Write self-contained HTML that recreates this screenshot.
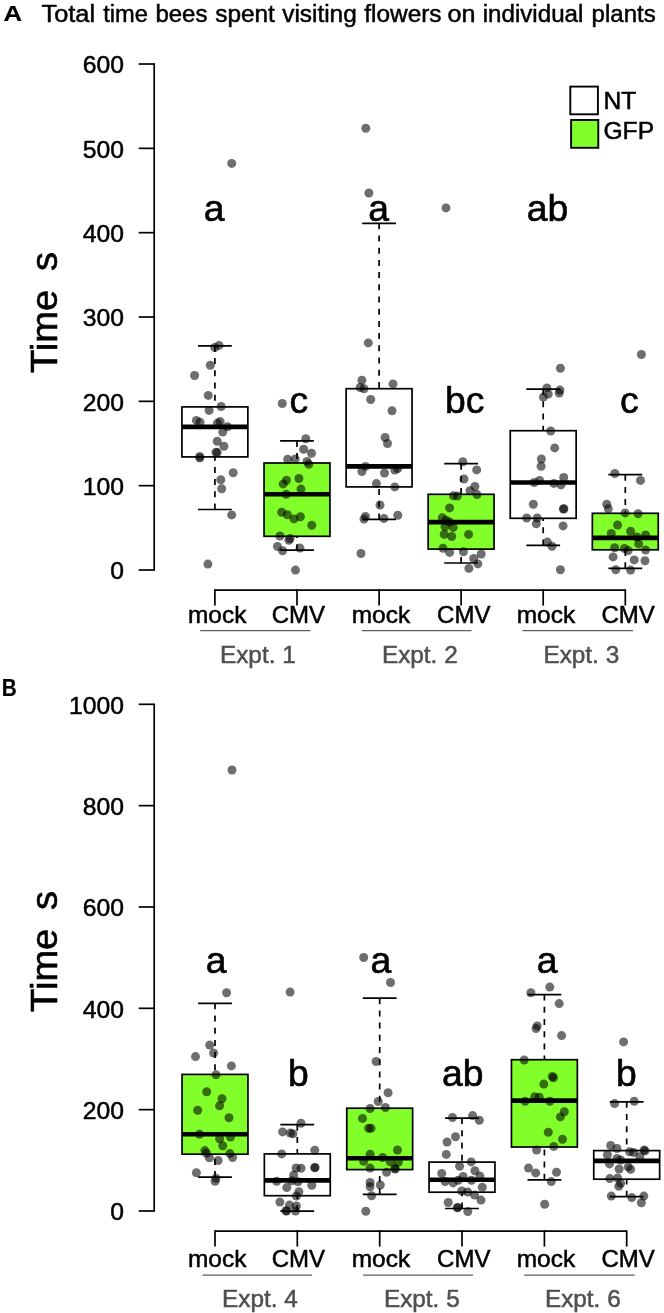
<!DOCTYPE html>
<html><head><meta charset="utf-8"><title>Figure</title>
<style>html,body{margin:0;padding:0;background:#fff}svg{display:block;will-change:transform}text{font-family:"Liberation Sans",sans-serif}</style>
</head><body>
<svg width="664" height="1313" viewBox="0 0 664 1313">
<rect width="664" height="1313" fill="#fff"/>
<text transform="translate(3.40 21.00) scale(1.12 1)" font-size="23.0" text-anchor="start" fill="#000" stroke="#000" stroke-width="0.2" font-weight="bold" >A</text>
<text transform="translate(41.50 22.40) scale(1.04 1)" font-size="24.4" text-anchor="start" fill="#000" stroke="#000" stroke-width="0.5" font-weight="normal" >Total</text>
<text transform="translate(103.20 22.40) scale(0.97 1)" font-size="24.4" text-anchor="start" fill="#000" stroke="#000" stroke-width="0.5" font-weight="normal" >time</text>
<text transform="translate(155.40 22.40) scale(0.985 1)" font-size="24.4" text-anchor="start" fill="#000" stroke="#000" stroke-width="0.5" font-weight="normal" >bees</text>
<text transform="translate(215.20 22.40) scale(1.0 1)" font-size="24.4" text-anchor="start" fill="#000" stroke="#000" stroke-width="0.5" font-weight="normal" >spent</text>
<text transform="translate(282.20 22.40) scale(1.0 1)" font-size="24.4" text-anchor="start" fill="#000" stroke="#000" stroke-width="0.5" font-weight="normal" >visiting</text>
<text transform="translate(364.30 22.40) scale(1.0 1)" font-size="24.4" text-anchor="start" fill="#000" stroke="#000" stroke-width="0.5" font-weight="normal" >flowers</text>
<text transform="translate(447.50 22.40) scale(1.03 1)" font-size="24.4" text-anchor="start" fill="#000" stroke="#000" stroke-width="0.5" font-weight="normal" >on</text>
<text transform="translate(482.70 22.40) scale(0.99 1)" font-size="24.4" text-anchor="start" fill="#000" stroke="#000" stroke-width="0.5" font-weight="normal" >individual</text>
<text transform="translate(591.60 22.40) scale(0.985 1)" font-size="24.4" text-anchor="start" fill="#000" stroke="#000" stroke-width="0.5" font-weight="normal" >plants</text>
<text transform="translate(1.70 695.60) scale(0.88 1)" font-size="23.6" text-anchor="start" fill="#000" stroke="#000" stroke-width="0.2" font-weight="bold" >B</text>
<rect x="570.3" y="86.6" width="27.6" height="27.7" fill="#fff" stroke="#000" stroke-width="1.9"/>
<rect x="571.1" y="120.0" width="27.2" height="27.8" fill="#82ff2a" stroke="#000" stroke-width="1.9"/>
<text transform="translate(603.40 109.30) scale(1.045 1)" font-size="23.6" text-anchor="start" fill="#000" stroke="#000" stroke-width="0.5" font-weight="normal" >NT</text>
<text transform="translate(603.40 138.50) scale(1.045 1)" font-size="23.6" text-anchor="start" fill="#000" stroke="#000" stroke-width="0.5" font-weight="normal" >GFP</text>
<line x1="154.20" y1="64.02" x2="154.20" y2="570.00" stroke="#000" stroke-width="1.7" />
<line x1="138.70" y1="64.02" x2="155.05" y2="64.02" stroke="#000" stroke-width="1.7" />
<text transform="translate(124.00 73.22) scale(1.03 1)" font-size="24" text-anchor="end" fill="#000" stroke="#000" stroke-width="0.5" font-weight="normal" >600</text>
<line x1="138.70" y1="148.35" x2="155.05" y2="148.35" stroke="#000" stroke-width="1.7" />
<text transform="translate(124.00 157.55) scale(1.03 1)" font-size="24" text-anchor="end" fill="#000" stroke="#000" stroke-width="0.5" font-weight="normal" >500</text>
<line x1="138.70" y1="232.68" x2="155.05" y2="232.68" stroke="#000" stroke-width="1.7" />
<text transform="translate(124.00 241.88) scale(1.03 1)" font-size="24" text-anchor="end" fill="#000" stroke="#000" stroke-width="0.5" font-weight="normal" >400</text>
<line x1="138.70" y1="317.01" x2="155.05" y2="317.01" stroke="#000" stroke-width="1.7" />
<text transform="translate(124.00 326.21) scale(1.03 1)" font-size="24" text-anchor="end" fill="#000" stroke="#000" stroke-width="0.5" font-weight="normal" >300</text>
<line x1="138.70" y1="401.34" x2="155.05" y2="401.34" stroke="#000" stroke-width="1.7" />
<text transform="translate(124.00 410.54) scale(1.03 1)" font-size="24" text-anchor="end" fill="#000" stroke="#000" stroke-width="0.5" font-weight="normal" >200</text>
<line x1="138.70" y1="485.67" x2="155.05" y2="485.67" stroke="#000" stroke-width="1.7" />
<text transform="translate(124.00 494.87) scale(1.03 1)" font-size="24" text-anchor="end" fill="#000" stroke="#000" stroke-width="0.5" font-weight="normal" >100</text>
<line x1="138.70" y1="570.00" x2="155.05" y2="570.00" stroke="#000" stroke-width="1.7" />
<text transform="translate(124.00 579.20) scale(1.03 1)" font-size="24" text-anchor="end" fill="#000" stroke="#000" stroke-width="0.5" font-weight="normal" >0</text>
<line x1="214.90" y1="590.10" x2="625.30" y2="590.10" stroke="#000" stroke-width="1.7" />
<line x1="214.90" y1="589.25" x2="214.90" y2="605.60" stroke="#000" stroke-width="1.7" />
<line x1="297.00" y1="589.25" x2="297.00" y2="605.60" stroke="#000" stroke-width="1.7" />
<line x1="379.10" y1="589.25" x2="379.10" y2="605.60" stroke="#000" stroke-width="1.7" />
<line x1="461.10" y1="589.25" x2="461.10" y2="605.60" stroke="#000" stroke-width="1.7" />
<line x1="543.20" y1="589.25" x2="543.20" y2="605.60" stroke="#000" stroke-width="1.7" />
<line x1="625.30" y1="589.25" x2="625.30" y2="605.60" stroke="#000" stroke-width="1.7" />
<text transform="translate(217.20 623.30) scale(1.02 1)" font-size="24" text-anchor="middle" fill="#000" stroke="#000" stroke-width="0.5" font-weight="normal" >mock</text>
<text transform="translate(298.40 623.30) scale(1.0 1)" font-size="24" text-anchor="middle" fill="#000" stroke="#000" stroke-width="0.5" font-weight="normal" >CMV</text>
<text transform="translate(380.90 623.30) scale(1.02 1)" font-size="24" text-anchor="middle" fill="#000" stroke="#000" stroke-width="0.5" font-weight="normal" >mock</text>
<text transform="translate(463.75 623.30) scale(1.0 1)" font-size="24" text-anchor="middle" fill="#000" stroke="#000" stroke-width="0.5" font-weight="normal" >CMV</text>
<text transform="translate(545.90 623.30) scale(1.02 1)" font-size="24" text-anchor="middle" fill="#000" stroke="#000" stroke-width="0.5" font-weight="normal" >mock</text>
<text transform="translate(628.05 623.30) scale(1.0 1)" font-size="24" text-anchor="middle" fill="#000" stroke="#000" stroke-width="0.5" font-weight="normal" >CMV</text>
<line x1="200.20" y1="630.60" x2="310.50" y2="630.60" stroke="#5c5c5c" stroke-width="1.15" />
<line x1="362.00" y1="630.60" x2="471.50" y2="630.60" stroke="#5c5c5c" stroke-width="1.15" />
<line x1="522.50" y1="630.60" x2="633.00" y2="630.60" stroke="#5c5c5c" stroke-width="1.15" />
<text transform="translate(257.85 662.50) scale(1.015 1)" font-size="24" text-anchor="middle" fill="#505050" stroke="#505050" stroke-width="0.5" font-weight="normal" >Expt. 1</text>
<text transform="translate(419.80 662.50) scale(1.015 1)" font-size="24" text-anchor="middle" fill="#505050" stroke="#505050" stroke-width="0.5" font-weight="normal" >Expt. 2</text>
<text transform="translate(581.30 662.50) scale(1.015 1)" font-size="24" text-anchor="middle" fill="#505050" stroke="#505050" stroke-width="0.5" font-weight="normal" >Expt. 3</text>
<g transform="translate(0 0.5)">
<line x1="214.90" y1="345.40" x2="214.90" y2="406.40" stroke="#000" stroke-width="1.7" stroke-dasharray="6 6.2"/>
<line x1="214.90" y1="509.00" x2="214.90" y2="456.40" stroke="#000" stroke-width="1.7" stroke-dasharray="6 6.2"/>
<line x1="198.00" y1="345.40" x2="231.80" y2="345.40" stroke="#000" stroke-width="1.7" />
<line x1="198.00" y1="509.00" x2="231.80" y2="509.00" stroke="#000" stroke-width="1.7" />
<rect x="181.95" y="406.40" width="65.90" height="50.00" fill="#fff" stroke="#000" stroke-width="1.7"/>
<line x1="181.95" y1="426.40" x2="247.85" y2="426.40" stroke="#000" stroke-width="4.6" />
<line x1="297.00" y1="440.40" x2="297.00" y2="462.50" stroke="#000" stroke-width="1.7" stroke-dasharray="6 6.2"/>
<line x1="297.00" y1="549.70" x2="297.00" y2="535.80" stroke="#000" stroke-width="1.7" stroke-dasharray="6 6.2"/>
<line x1="280.10" y1="440.40" x2="313.90" y2="440.40" stroke="#000" stroke-width="1.7" />
<line x1="280.10" y1="549.70" x2="313.90" y2="549.70" stroke="#000" stroke-width="1.7" />
<rect x="264.05" y="462.50" width="65.90" height="73.30" fill="#82ff2a" stroke="#000" stroke-width="1.7"/>
<line x1="264.05" y1="493.70" x2="329.95" y2="493.70" stroke="#000" stroke-width="4.6" />
<line x1="379.10" y1="222.80" x2="379.10" y2="388.20" stroke="#000" stroke-width="1.7" stroke-dasharray="6 6.2"/>
<line x1="379.10" y1="518.90" x2="379.10" y2="486.40" stroke="#000" stroke-width="1.7" stroke-dasharray="6 6.2"/>
<line x1="362.20" y1="222.80" x2="396.00" y2="222.80" stroke="#000" stroke-width="1.7" />
<line x1="362.20" y1="518.90" x2="396.00" y2="518.90" stroke="#000" stroke-width="1.7" />
<rect x="346.15" y="388.20" width="65.90" height="98.20" fill="#fff" stroke="#000" stroke-width="1.7"/>
<line x1="346.15" y1="465.90" x2="412.05" y2="465.90" stroke="#000" stroke-width="4.6" />
<line x1="461.10" y1="463.20" x2="461.10" y2="493.80" stroke="#000" stroke-width="1.7" stroke-dasharray="6 6.2"/>
<line x1="461.10" y1="562.50" x2="461.10" y2="548.60" stroke="#000" stroke-width="1.7" stroke-dasharray="6 6.2"/>
<line x1="444.20" y1="463.20" x2="478.00" y2="463.20" stroke="#000" stroke-width="1.7" />
<line x1="444.20" y1="562.50" x2="478.00" y2="562.50" stroke="#000" stroke-width="1.7" />
<rect x="428.15" y="493.80" width="65.90" height="54.80" fill="#82ff2a" stroke="#000" stroke-width="1.7"/>
<line x1="428.15" y1="521.60" x2="494.05" y2="521.60" stroke="#000" stroke-width="4.6" />
<line x1="543.20" y1="388.60" x2="543.20" y2="430.20" stroke="#000" stroke-width="1.7" stroke-dasharray="6 6.2"/>
<line x1="543.20" y1="544.90" x2="543.20" y2="517.80" stroke="#000" stroke-width="1.7" stroke-dasharray="6 6.2"/>
<line x1="526.30" y1="388.60" x2="560.10" y2="388.60" stroke="#000" stroke-width="1.7" />
<line x1="526.30" y1="544.90" x2="560.10" y2="544.90" stroke="#000" stroke-width="1.7" />
<rect x="510.25" y="430.20" width="65.90" height="87.60" fill="#fff" stroke="#000" stroke-width="1.7"/>
<line x1="510.25" y1="482.00" x2="576.15" y2="482.00" stroke="#000" stroke-width="4.6" />
<line x1="625.30" y1="474.20" x2="625.30" y2="512.80" stroke="#000" stroke-width="1.7" stroke-dasharray="6 6.2"/>
<line x1="625.30" y1="567.80" x2="625.30" y2="549.30" stroke="#000" stroke-width="1.7" stroke-dasharray="6 6.2"/>
<line x1="608.40" y1="474.20" x2="642.20" y2="474.20" stroke="#000" stroke-width="1.7" />
<line x1="608.40" y1="567.80" x2="642.20" y2="567.80" stroke="#000" stroke-width="1.7" />
<rect x="592.35" y="512.80" width="65.90" height="36.50" fill="#82ff2a" stroke="#000" stroke-width="1.7"/>
<line x1="592.35" y1="537.40" x2="658.25" y2="537.40" stroke="#000" stroke-width="4.6" />
<g fill="rgba(0,0,0,0.57)">
<circle cx="231.7" cy="162.9" r="4.5"/>
<circle cx="219.0" cy="344.9" r="4.5"/>
<circle cx="214.8" cy="347.0" r="4.5"/>
<circle cx="210.3" cy="364.8" r="4.5"/>
<circle cx="194.6" cy="375.0" r="4.5"/>
<circle cx="208.2" cy="394.9" r="4.5"/>
<circle cx="221.1" cy="406.0" r="4.5"/>
<circle cx="209.1" cy="409.9" r="4.5"/>
<circle cx="196.4" cy="419.9" r="4.5"/>
<circle cx="200.0" cy="421.7" r="4.5"/>
<circle cx="220.2" cy="421.1" r="4.5"/>
<circle cx="217.5" cy="422.6" r="4.5"/>
<circle cx="227.5" cy="426.2" r="4.5"/>
<circle cx="222.7" cy="431.6" r="4.5"/>
<circle cx="217.2" cy="440.7" r="4.5"/>
<circle cx="223.9" cy="445.8" r="4.5"/>
<circle cx="216.0" cy="451.8" r="4.5"/>
<circle cx="217.2" cy="452.1" r="4.5"/>
<circle cx="199.8" cy="456.0" r="4.5"/>
<circle cx="199.8" cy="457.5" r="4.5"/>
<circle cx="233.2" cy="472.3" r="4.5"/>
<circle cx="220.8" cy="479.2" r="4.5"/>
<circle cx="221.7" cy="488.3" r="4.5"/>
<circle cx="231.7" cy="514.4" r="4.5"/>
<circle cx="207.9" cy="563.6" r="4.5"/>
<circle cx="282.3" cy="403.0" r="4.5"/>
<circle cx="305.8" cy="438.3" r="4.5"/>
<circle cx="303.7" cy="448.8" r="4.5"/>
<circle cx="311.5" cy="452.7" r="4.5"/>
<circle cx="287.7" cy="458.7" r="4.5"/>
<circle cx="295.2" cy="458.4" r="4.5"/>
<circle cx="307.0" cy="460.9" r="4.5"/>
<circle cx="308.8" cy="463.8" r="4.5"/>
<circle cx="298.9" cy="478.0" r="4.5"/>
<circle cx="286.5" cy="479.8" r="4.5"/>
<circle cx="283.2" cy="483.4" r="4.5"/>
<circle cx="301.0" cy="488.6" r="4.5"/>
<circle cx="286.2" cy="493.7" r="4.5"/>
<circle cx="281.7" cy="511.7" r="4.5"/>
<circle cx="287.4" cy="514.2" r="4.5"/>
<circle cx="294.0" cy="518.4" r="4.5"/>
<circle cx="300.4" cy="516.3" r="4.5"/>
<circle cx="311.8" cy="524.7" r="4.5"/>
<circle cx="279.9" cy="535.5" r="4.5"/>
<circle cx="290.1" cy="538.0" r="4.5"/>
<circle cx="288.9" cy="539.8" r="4.5"/>
<circle cx="277.5" cy="546.0" r="4.5"/>
<circle cx="282.6" cy="550.3" r="4.5"/>
<circle cx="300.0" cy="547.6" r="4.5"/>
<circle cx="295.5" cy="569.6" r="4.5"/>
<circle cx="365.8" cy="127.7" r="4.5"/>
<circle cx="368.9" cy="192.5" r="4.5"/>
<circle cx="368.3" cy="342.4" r="4.5"/>
<circle cx="361.9" cy="379.8" r="4.5"/>
<circle cx="393.0" cy="383.4" r="4.5"/>
<circle cx="360.1" cy="387.0" r="4.5"/>
<circle cx="364.0" cy="388.2" r="4.5"/>
<circle cx="370.7" cy="399.0" r="4.5"/>
<circle cx="392.0" cy="410.2" r="4.5"/>
<circle cx="385.1" cy="437.0" r="4.5"/>
<circle cx="387.5" cy="443.0" r="4.5"/>
<circle cx="365.5" cy="465.9" r="4.5"/>
<circle cx="397.8" cy="468.0" r="4.5"/>
<circle cx="394.8" cy="469.5" r="4.5"/>
<circle cx="361.9" cy="471.0" r="4.5"/>
<circle cx="384.5" cy="472.5" r="4.5"/>
<circle cx="376.4" cy="483.1" r="4.5"/>
<circle cx="394.8" cy="486.4" r="4.5"/>
<circle cx="380.0" cy="504.5" r="4.5"/>
<circle cx="397.8" cy="514.7" r="4.5"/>
<circle cx="365.5" cy="515.9" r="4.5"/>
<circle cx="364.0" cy="518.6" r="4.5"/>
<circle cx="383.9" cy="518.0" r="4.5"/>
<circle cx="361.0" cy="553.0" r="4.5"/>
<circle cx="446.0" cy="207.4" r="4.5"/>
<circle cx="462.8" cy="461.3" r="4.5"/>
<circle cx="476.7" cy="469.4" r="4.5"/>
<circle cx="464.0" cy="478.5" r="4.5"/>
<circle cx="474.9" cy="486.0" r="4.5"/>
<circle cx="470.0" cy="490.2" r="4.5"/>
<circle cx="477.0" cy="494.1" r="4.5"/>
<circle cx="453.5" cy="495.3" r="4.5"/>
<circle cx="457.4" cy="495.6" r="4.5"/>
<circle cx="449.6" cy="507.4" r="4.5"/>
<circle cx="442.3" cy="517.3" r="4.5"/>
<circle cx="446.0" cy="519.7" r="4.5"/>
<circle cx="449.6" cy="521.5" r="4.5"/>
<circle cx="445.0" cy="526.3" r="4.5"/>
<circle cx="453.2" cy="526.9" r="4.5"/>
<circle cx="444.2" cy="533.9" r="4.5"/>
<circle cx="451.7" cy="536.0" r="4.5"/>
<circle cx="468.6" cy="533.9" r="4.5"/>
<circle cx="443.0" cy="547.7" r="4.5"/>
<circle cx="449.6" cy="551.9" r="4.5"/>
<circle cx="463.4" cy="551.3" r="4.5"/>
<circle cx="481.2" cy="553.5" r="4.5"/>
<circle cx="473.7" cy="558.0" r="4.5"/>
<circle cx="477.9" cy="563.4" r="4.5"/>
<circle cx="468.9" cy="567.9" r="4.5"/>
<circle cx="560.4" cy="367.8" r="4.5"/>
<circle cx="546.9" cy="387.4" r="4.5"/>
<circle cx="548.2" cy="393.5" r="4.5"/>
<circle cx="543.4" cy="396.6" r="4.5"/>
<circle cx="559.9" cy="389.6" r="4.5"/>
<circle cx="559.2" cy="392.6" r="4.5"/>
<circle cx="550.7" cy="430.5" r="4.5"/>
<circle cx="554.7" cy="447.4" r="4.5"/>
<circle cx="541.4" cy="458.5" r="4.5"/>
<circle cx="541.1" cy="465.7" r="4.5"/>
<circle cx="563.7" cy="476.9" r="4.5"/>
<circle cx="539.6" cy="479.9" r="4.5"/>
<circle cx="534.2" cy="482.0" r="4.5"/>
<circle cx="553.8" cy="482.9" r="4.5"/>
<circle cx="561.0" cy="484.4" r="4.5"/>
<circle cx="533.3" cy="503.7" r="4.5"/>
<circle cx="563.4" cy="508.5" r="4.5"/>
<circle cx="563.9" cy="508.2" r="4.5"/>
<circle cx="526.7" cy="517.5" r="4.5"/>
<circle cx="537.2" cy="517.5" r="4.5"/>
<circle cx="536.3" cy="523.3" r="4.5"/>
<circle cx="563.1" cy="525.4" r="4.5"/>
<circle cx="547.4" cy="541.6" r="4.5"/>
<circle cx="552.0" cy="545.8" r="4.5"/>
<circle cx="560.4" cy="569.3" r="4.5"/>
<circle cx="641.4" cy="354.0" r="4.5"/>
<circle cx="614.9" cy="473.0" r="4.5"/>
<circle cx="640.5" cy="479.9" r="4.5"/>
<circle cx="606.8" cy="503.7" r="4.5"/>
<circle cx="608.3" cy="508.2" r="4.5"/>
<circle cx="625.1" cy="512.4" r="4.5"/>
<circle cx="638.1" cy="513.3" r="4.5"/>
<circle cx="617.6" cy="524.5" r="4.5"/>
<circle cx="630.6" cy="530.8" r="4.5"/>
<circle cx="611.3" cy="532.9" r="4.5"/>
<circle cx="645.6" cy="534.4" r="4.5"/>
<circle cx="636.9" cy="536.5" r="4.5"/>
<circle cx="638.7" cy="543.4" r="4.5"/>
<circle cx="614.6" cy="547.3" r="4.5"/>
<circle cx="624.5" cy="548.0" r="4.5"/>
<circle cx="628.2" cy="550.1" r="4.5"/>
<circle cx="645.6" cy="549.5" r="4.5"/>
<circle cx="613.1" cy="556.4" r="4.5"/>
<circle cx="634.2" cy="559.4" r="4.5"/>
<circle cx="645.0" cy="560.3" r="4.5"/>
<circle cx="615.8" cy="569.3" r="4.5"/>
<circle cx="630.6" cy="569.6" r="4.5"/>
</g></g>
<text transform="translate(214.00 220.90) scale(1.0 1)" font-size="37.3" text-anchor="middle" fill="#000" stroke="#000" stroke-width="0.65" font-weight="normal" >a</text>
<text transform="translate(298.80 412.90) scale(1.0 1)" font-size="37.3" text-anchor="middle" fill="#000" stroke="#000" stroke-width="0.65" font-weight="normal" >c</text>
<text transform="translate(378.50 220.90) scale(1.0 1)" font-size="37.3" text-anchor="middle" fill="#000" stroke="#000" stroke-width="0.65" font-weight="normal" >a</text>
<text transform="translate(464.70 412.90) scale(1.0 1)" font-size="37.3" text-anchor="middle" fill="#000" stroke="#000" stroke-width="0.65" font-weight="normal" >bc</text>
<text transform="translate(547.50 220.90) scale(1.0 1)" font-size="37.3" text-anchor="middle" fill="#000" stroke="#000" stroke-width="0.65" font-weight="normal" >ab</text>
<text transform="translate(629.30 412.90) scale(1.0 1)" font-size="37.3" text-anchor="middle" fill="#000" stroke="#000" stroke-width="0.65" font-weight="normal" >c</text>
<text transform="translate(57.2 373.1) rotate(-90) scale(1.04 1)" font-size="36.6" stroke="#000" stroke-width="0.6">Time</text>
<text transform="translate(57.2 271.1) rotate(-90) scale(1.04 1)" font-size="36.6" stroke="#000" stroke-width="0.6">s</text>
<line x1="154.20" y1="704.30" x2="154.20" y2="1211.00" stroke="#000" stroke-width="1.7" />
<line x1="138.70" y1="704.30" x2="155.05" y2="704.30" stroke="#000" stroke-width="1.7" />
<text transform="translate(124.00 713.50) scale(1.03 1)" font-size="24" text-anchor="end" fill="#000" stroke="#000" stroke-width="0.5" font-weight="normal" >1000</text>
<line x1="138.70" y1="805.64" x2="155.05" y2="805.64" stroke="#000" stroke-width="1.7" />
<text transform="translate(124.00 814.84) scale(1.03 1)" font-size="24" text-anchor="end" fill="#000" stroke="#000" stroke-width="0.5" font-weight="normal" >800</text>
<line x1="138.70" y1="906.98" x2="155.05" y2="906.98" stroke="#000" stroke-width="1.7" />
<text transform="translate(124.00 916.18) scale(1.03 1)" font-size="24" text-anchor="end" fill="#000" stroke="#000" stroke-width="0.5" font-weight="normal" >600</text>
<line x1="138.70" y1="1008.32" x2="155.05" y2="1008.32" stroke="#000" stroke-width="1.7" />
<text transform="translate(124.00 1017.52) scale(1.03 1)" font-size="24" text-anchor="end" fill="#000" stroke="#000" stroke-width="0.5" font-weight="normal" >400</text>
<line x1="138.70" y1="1109.66" x2="155.05" y2="1109.66" stroke="#000" stroke-width="1.7" />
<text transform="translate(124.00 1118.86) scale(1.03 1)" font-size="24" text-anchor="end" fill="#000" stroke="#000" stroke-width="0.5" font-weight="normal" >200</text>
<line x1="138.70" y1="1211.00" x2="155.05" y2="1211.00" stroke="#000" stroke-width="1.7" />
<text transform="translate(124.00 1220.20) scale(1.03 1)" font-size="24" text-anchor="end" fill="#000" stroke="#000" stroke-width="0.5" font-weight="normal" >0</text>
<line x1="215.00" y1="1231.10" x2="626.70" y2="1231.10" stroke="#000" stroke-width="1.7" />
<line x1="215.00" y1="1230.25" x2="215.00" y2="1246.60" stroke="#000" stroke-width="1.7" />
<line x1="297.30" y1="1230.25" x2="297.30" y2="1246.60" stroke="#000" stroke-width="1.7" />
<line x1="379.70" y1="1230.25" x2="379.70" y2="1246.60" stroke="#000" stroke-width="1.7" />
<line x1="462.00" y1="1230.25" x2="462.00" y2="1246.60" stroke="#000" stroke-width="1.7" />
<line x1="544.40" y1="1230.25" x2="544.40" y2="1246.60" stroke="#000" stroke-width="1.7" />
<line x1="626.70" y1="1230.25" x2="626.70" y2="1246.60" stroke="#000" stroke-width="1.7" />
<text transform="translate(217.20 1267.40) scale(1.02 1)" font-size="24" text-anchor="middle" fill="#000" stroke="#000" stroke-width="0.5" font-weight="normal" >mock</text>
<text transform="translate(298.40 1267.40) scale(1.0 1)" font-size="24" text-anchor="middle" fill="#000" stroke="#000" stroke-width="0.5" font-weight="normal" >CMV</text>
<text transform="translate(380.90 1267.40) scale(1.02 1)" font-size="24" text-anchor="middle" fill="#000" stroke="#000" stroke-width="0.5" font-weight="normal" >mock</text>
<text transform="translate(463.75 1267.40) scale(1.0 1)" font-size="24" text-anchor="middle" fill="#000" stroke="#000" stroke-width="0.5" font-weight="normal" >CMV</text>
<text transform="translate(545.90 1267.40) scale(1.02 1)" font-size="24" text-anchor="middle" fill="#000" stroke="#000" stroke-width="0.5" font-weight="normal" >mock</text>
<text transform="translate(628.05 1267.40) scale(1.0 1)" font-size="24" text-anchor="middle" fill="#000" stroke="#000" stroke-width="0.5" font-weight="normal" >CMV</text>
<line x1="202.50" y1="1275.10" x2="312.00" y2="1275.10" stroke="#5c5c5c" stroke-width="1.15" />
<line x1="363.00" y1="1275.10" x2="473.00" y2="1275.10" stroke="#5c5c5c" stroke-width="1.15" />
<line x1="524.30" y1="1275.10" x2="634.50" y2="1275.10" stroke="#5c5c5c" stroke-width="1.15" />
<text transform="translate(259.95 1306.50) scale(1.015 1)" font-size="24" text-anchor="middle" fill="#505050" stroke="#505050" stroke-width="0.5" font-weight="normal" >Expt. 4</text>
<text transform="translate(421.80 1306.50) scale(1.015 1)" font-size="24" text-anchor="middle" fill="#505050" stroke="#505050" stroke-width="0.5" font-weight="normal" >Expt. 5</text>
<text transform="translate(582.80 1306.50) scale(1.015 1)" font-size="24" text-anchor="middle" fill="#505050" stroke="#505050" stroke-width="0.5" font-weight="normal" >Expt. 6</text>
<g transform="translate(0 0.5)">
<line x1="215.00" y1="1002.80" x2="215.00" y2="1073.90" stroke="#000" stroke-width="1.7" stroke-dasharray="6 6.2"/>
<line x1="215.00" y1="1176.60" x2="215.00" y2="1153.70" stroke="#000" stroke-width="1.7" stroke-dasharray="6 6.2"/>
<line x1="198.10" y1="1002.80" x2="231.90" y2="1002.80" stroke="#000" stroke-width="1.7" />
<line x1="198.10" y1="1176.60" x2="231.90" y2="1176.60" stroke="#000" stroke-width="1.7" />
<rect x="182.05" y="1073.90" width="65.90" height="79.80" fill="#82ff2a" stroke="#000" stroke-width="1.7"/>
<line x1="182.05" y1="1133.80" x2="247.95" y2="1133.80" stroke="#000" stroke-width="4.6" />
<line x1="297.30" y1="1124.20" x2="297.30" y2="1153.40" stroke="#000" stroke-width="1.7" stroke-dasharray="6 6.2"/>
<line x1="297.30" y1="1210.60" x2="297.30" y2="1195.20" stroke="#000" stroke-width="1.7" stroke-dasharray="6 6.2"/>
<line x1="280.40" y1="1124.20" x2="314.20" y2="1124.20" stroke="#000" stroke-width="1.7" />
<line x1="280.40" y1="1210.60" x2="314.20" y2="1210.60" stroke="#000" stroke-width="1.7" />
<rect x="264.35" y="1153.40" width="65.90" height="41.80" fill="#fff" stroke="#000" stroke-width="1.7"/>
<line x1="264.35" y1="1179.90" x2="330.25" y2="1179.90" stroke="#000" stroke-width="4.6" />
<line x1="379.70" y1="997.70" x2="379.70" y2="1107.70" stroke="#000" stroke-width="1.7" stroke-dasharray="6 6.2"/>
<line x1="379.70" y1="1193.80" x2="379.70" y2="1169.10" stroke="#000" stroke-width="1.7" stroke-dasharray="6 6.2"/>
<line x1="362.80" y1="997.70" x2="396.60" y2="997.70" stroke="#000" stroke-width="1.7" />
<line x1="362.80" y1="1193.80" x2="396.60" y2="1193.80" stroke="#000" stroke-width="1.7" />
<rect x="346.75" y="1107.70" width="65.90" height="61.40" fill="#82ff2a" stroke="#000" stroke-width="1.7"/>
<line x1="346.75" y1="1157.70" x2="412.65" y2="1157.70" stroke="#000" stroke-width="4.6" />
<line x1="462.00" y1="1117.60" x2="462.00" y2="1161.60" stroke="#000" stroke-width="1.7" stroke-dasharray="6 6.2"/>
<line x1="462.00" y1="1208.00" x2="462.00" y2="1191.70" stroke="#000" stroke-width="1.7" stroke-dasharray="6 6.2"/>
<line x1="445.10" y1="1117.60" x2="478.90" y2="1117.60" stroke="#000" stroke-width="1.7" />
<line x1="445.10" y1="1208.00" x2="478.90" y2="1208.00" stroke="#000" stroke-width="1.7" />
<rect x="429.05" y="1161.60" width="65.90" height="30.10" fill="#fff" stroke="#000" stroke-width="1.7"/>
<line x1="429.05" y1="1179.30" x2="494.95" y2="1179.30" stroke="#000" stroke-width="4.6" />
<line x1="544.40" y1="994.10" x2="544.40" y2="1059.20" stroke="#000" stroke-width="1.7" stroke-dasharray="6 6.2"/>
<line x1="544.40" y1="1179.30" x2="544.40" y2="1146.50" stroke="#000" stroke-width="1.7" stroke-dasharray="6 6.2"/>
<line x1="527.50" y1="994.10" x2="561.30" y2="994.10" stroke="#000" stroke-width="1.7" />
<line x1="527.50" y1="1179.30" x2="561.30" y2="1179.30" stroke="#000" stroke-width="1.7" />
<rect x="511.45" y="1059.20" width="65.90" height="87.30" fill="#82ff2a" stroke="#000" stroke-width="1.7"/>
<line x1="511.45" y1="1100.10" x2="577.35" y2="1100.10" stroke="#000" stroke-width="4.6" />
<line x1="626.70" y1="1101.30" x2="626.70" y2="1150.10" stroke="#000" stroke-width="1.7" stroke-dasharray="6 6.2"/>
<line x1="626.70" y1="1196.20" x2="626.70" y2="1178.70" stroke="#000" stroke-width="1.7" stroke-dasharray="6 6.2"/>
<line x1="609.80" y1="1101.30" x2="643.60" y2="1101.30" stroke="#000" stroke-width="1.7" />
<line x1="609.80" y1="1196.20" x2="643.60" y2="1196.20" stroke="#000" stroke-width="1.7" />
<rect x="593.75" y="1150.10" width="65.90" height="28.60" fill="#fff" stroke="#000" stroke-width="1.7"/>
<line x1="593.75" y1="1160.40" x2="659.65" y2="1160.40" stroke="#000" stroke-width="4.6" />
<g fill="rgba(0,0,0,0.57)">
<circle cx="232.0" cy="769.5" r="4.5"/>
<circle cx="226.6" cy="992.2" r="4.5"/>
<circle cx="209.7" cy="1044.6" r="4.5"/>
<circle cx="213.6" cy="1052.5" r="4.5"/>
<circle cx="195.5" cy="1056.1" r="4.5"/>
<circle cx="231.4" cy="1065.4" r="4.5"/>
<circle cx="216.0" cy="1074.2" r="4.5"/>
<circle cx="206.7" cy="1091.3" r="4.5"/>
<circle cx="222.0" cy="1098.3" r="4.5"/>
<circle cx="219.6" cy="1105.2" r="4.5"/>
<circle cx="197.7" cy="1109.7" r="4.5"/>
<circle cx="229.0" cy="1117.2" r="4.5"/>
<circle cx="199.5" cy="1133.8" r="4.5"/>
<circle cx="219.6" cy="1138.3" r="4.5"/>
<circle cx="230.5" cy="1136.5" r="4.5"/>
<circle cx="222.7" cy="1145.2" r="4.5"/>
<circle cx="204.9" cy="1150.1" r="4.5"/>
<circle cx="206.4" cy="1152.8" r="4.5"/>
<circle cx="229.9" cy="1153.1" r="4.5"/>
<circle cx="209.4" cy="1157.3" r="4.5"/>
<circle cx="232.6" cy="1157.0" r="4.5"/>
<circle cx="218.1" cy="1160.0" r="4.5"/>
<circle cx="196.4" cy="1172.3" r="4.5"/>
<circle cx="216.0" cy="1177.8" r="4.5"/>
<circle cx="215.1" cy="1180.8" r="4.5"/>
<circle cx="290.1" cy="991.6" r="4.5"/>
<circle cx="301.0" cy="1122.7" r="4.5"/>
<circle cx="282.6" cy="1131.4" r="4.5"/>
<circle cx="290.3" cy="1132.6" r="4.5"/>
<circle cx="292.9" cy="1133.2" r="4.5"/>
<circle cx="314.8" cy="1149.8" r="4.5"/>
<circle cx="281.7" cy="1153.4" r="4.5"/>
<circle cx="315.1" cy="1166.9" r="4.5"/>
<circle cx="314.7" cy="1167.2" r="4.5"/>
<circle cx="296.1" cy="1167.5" r="4.5"/>
<circle cx="301.0" cy="1167.8" r="4.5"/>
<circle cx="293.7" cy="1174.5" r="4.5"/>
<circle cx="276.6" cy="1180.8" r="4.5"/>
<circle cx="291.9" cy="1180.2" r="4.5"/>
<circle cx="298.0" cy="1181.2" r="4.5"/>
<circle cx="311.8" cy="1184.7" r="4.5"/>
<circle cx="286.8" cy="1187.1" r="4.5"/>
<circle cx="298.9" cy="1191.3" r="4.5"/>
<circle cx="296.4" cy="1195.5" r="4.5"/>
<circle cx="279.9" cy="1201.6" r="4.5"/>
<circle cx="289.5" cy="1204.6" r="4.5"/>
<circle cx="296.4" cy="1205.5" r="4.5"/>
<circle cx="286.5" cy="1210.6" r="4.5"/>
<circle cx="286.0" cy="1210.3" r="4.5"/>
<circle cx="295.5" cy="1210.6" r="4.5"/>
<circle cx="363.7" cy="957.0" r="4.5"/>
<circle cx="390.5" cy="982.0" r="4.5"/>
<circle cx="376.1" cy="1061.0" r="4.5"/>
<circle cx="388.1" cy="1092.3" r="4.5"/>
<circle cx="378.2" cy="1101.0" r="4.5"/>
<circle cx="370.1" cy="1108.0" r="4.5"/>
<circle cx="385.4" cy="1107.0" r="4.5"/>
<circle cx="362.5" cy="1117.9" r="4.5"/>
<circle cx="368.6" cy="1127.8" r="4.5"/>
<circle cx="371.0" cy="1127.8" r="4.5"/>
<circle cx="397.5" cy="1149.5" r="4.5"/>
<circle cx="370.1" cy="1153.7" r="4.5"/>
<circle cx="382.7" cy="1157.0" r="4.5"/>
<circle cx="363.7" cy="1160.7" r="4.5"/>
<circle cx="390.3" cy="1161.3" r="4.5"/>
<circle cx="398.3" cy="1161.7" r="4.5"/>
<circle cx="394.7" cy="1168.0" r="4.5"/>
<circle cx="395.3" cy="1168.6" r="4.5"/>
<circle cx="370.1" cy="1167.6" r="4.5"/>
<circle cx="386.6" cy="1171.8" r="4.5"/>
<circle cx="370.1" cy="1182.0" r="4.5"/>
<circle cx="380.3" cy="1184.5" r="4.5"/>
<circle cx="370.1" cy="1186.3" r="4.5"/>
<circle cx="371.6" cy="1195.3" r="4.5"/>
<circle cx="365.8" cy="1210.7" r="4.5"/>
<circle cx="452.5" cy="1117.0" r="4.5"/>
<circle cx="472.6" cy="1115.1" r="4.5"/>
<circle cx="479.3" cy="1119.7" r="4.5"/>
<circle cx="455.5" cy="1136.3" r="4.5"/>
<circle cx="447.1" cy="1141.5" r="4.5"/>
<circle cx="446.3" cy="1153.9" r="4.5"/>
<circle cx="471.2" cy="1161.4" r="4.5"/>
<circle cx="459.6" cy="1165.7" r="4.5"/>
<circle cx="474.9" cy="1170.2" r="4.5"/>
<circle cx="441.7" cy="1172.9" r="4.5"/>
<circle cx="479.9" cy="1175.6" r="4.5"/>
<circle cx="463.1" cy="1176.0" r="4.5"/>
<circle cx="445.1" cy="1181.0" r="4.5"/>
<circle cx="453.2" cy="1182.4" r="4.5"/>
<circle cx="458.2" cy="1179.7" r="4.5"/>
<circle cx="471.5" cy="1179.7" r="4.5"/>
<circle cx="482.3" cy="1186.7" r="4.5"/>
<circle cx="461.7" cy="1190.5" r="4.5"/>
<circle cx="467.7" cy="1191.5" r="4.5"/>
<circle cx="474.6" cy="1194.6" r="4.5"/>
<circle cx="481.0" cy="1199.6" r="4.5"/>
<circle cx="448.2" cy="1202.0" r="4.5"/>
<circle cx="457.3" cy="1207.2" r="4.5"/>
<circle cx="457.8" cy="1206.9" r="4.5"/>
<circle cx="467.8" cy="1211.1" r="4.5"/>
<circle cx="549.8" cy="986.6" r="4.5"/>
<circle cx="530.9" cy="992.3" r="4.5"/>
<circle cx="559.2" cy="1003.1" r="4.5"/>
<circle cx="537.2" cy="1025.4" r="4.5"/>
<circle cx="536.0" cy="1028.1" r="4.5"/>
<circle cx="561.6" cy="1035.1" r="4.5"/>
<circle cx="524.2" cy="1059.5" r="4.5"/>
<circle cx="552.3" cy="1076.0" r="4.5"/>
<circle cx="553.5" cy="1077.2" r="4.5"/>
<circle cx="543.8" cy="1083.6" r="4.5"/>
<circle cx="534.8" cy="1096.2" r="4.5"/>
<circle cx="539.3" cy="1096.8" r="4.5"/>
<circle cx="525.1" cy="1100.7" r="4.5"/>
<circle cx="549.8" cy="1100.7" r="4.5"/>
<circle cx="564.3" cy="1111.3" r="4.5"/>
<circle cx="560.4" cy="1116.4" r="4.5"/>
<circle cx="548.3" cy="1131.7" r="4.5"/>
<circle cx="562.5" cy="1138.7" r="4.5"/>
<circle cx="553.8" cy="1145.9" r="4.5"/>
<circle cx="536.6" cy="1149.5" r="4.5"/>
<circle cx="528.5" cy="1167.6" r="4.5"/>
<circle cx="535.7" cy="1172.4" r="4.5"/>
<circle cx="556.5" cy="1171.8" r="4.5"/>
<circle cx="551.3" cy="1181.1" r="4.5"/>
<circle cx="544.7" cy="1203.7" r="4.5"/>
<circle cx="623.6" cy="1041.4" r="4.5"/>
<circle cx="634.2" cy="1100.7" r="4.5"/>
<circle cx="614.6" cy="1103.1" r="4.5"/>
<circle cx="610.7" cy="1145.0" r="4.5"/>
<circle cx="617.0" cy="1148.0" r="4.5"/>
<circle cx="644.1" cy="1149.5" r="4.5"/>
<circle cx="645.0" cy="1150.4" r="4.5"/>
<circle cx="629.7" cy="1151.3" r="4.5"/>
<circle cx="633.6" cy="1151.9" r="4.5"/>
<circle cx="639.8" cy="1156.2" r="4.5"/>
<circle cx="607.4" cy="1154.3" r="4.5"/>
<circle cx="617.0" cy="1158.0" r="4.5"/>
<circle cx="609.5" cy="1163.4" r="4.5"/>
<circle cx="620.6" cy="1159.5" r="4.5"/>
<circle cx="628.2" cy="1166.4" r="4.5"/>
<circle cx="619.1" cy="1168.5" r="4.5"/>
<circle cx="630.6" cy="1168.8" r="4.5"/>
<circle cx="609.8" cy="1178.1" r="4.5"/>
<circle cx="617.6" cy="1177.5" r="4.5"/>
<circle cx="620.6" cy="1182.7" r="4.5"/>
<circle cx="618.8" cy="1185.7" r="4.5"/>
<circle cx="611.3" cy="1195.6" r="4.5"/>
<circle cx="631.8" cy="1197.1" r="4.5"/>
<circle cx="643.8" cy="1195.6" r="4.5"/>
<circle cx="641.4" cy="1202.2" r="4.5"/>
</g></g>
<text transform="translate(216.20 973.00) scale(1.0 1)" font-size="37.3" text-anchor="middle" fill="#000" stroke="#000" stroke-width="0.65" font-weight="normal" >a</text>
<text transform="translate(298.30 1085.60) scale(1.0 1)" font-size="37.3" text-anchor="middle" fill="#000" stroke="#000" stroke-width="0.65" font-weight="normal" >b</text>
<text transform="translate(380.90 973.00) scale(1.0 1)" font-size="37.3" text-anchor="middle" fill="#000" stroke="#000" stroke-width="0.65" font-weight="normal" >a</text>
<text transform="translate(462.80 1085.60) scale(1.0 1)" font-size="37.3" text-anchor="middle" fill="#000" stroke="#000" stroke-width="0.65" font-weight="normal" >ab</text>
<text transform="translate(547.00 973.00) scale(1.0 1)" font-size="37.3" text-anchor="middle" fill="#000" stroke="#000" stroke-width="0.65" font-weight="normal" >a</text>
<text transform="translate(626.40 1085.60) scale(1.0 1)" font-size="37.3" text-anchor="middle" fill="#000" stroke="#000" stroke-width="0.65" font-weight="normal" >b</text>
<text transform="translate(57.2 1011.9) rotate(-90) scale(1.04 1)" font-size="36.6" stroke="#000" stroke-width="0.6">Time</text>
<text transform="translate(57.2 909.9) rotate(-90) scale(1.04 1)" font-size="36.6" stroke="#000" stroke-width="0.6">s</text>
</svg></body></html>
